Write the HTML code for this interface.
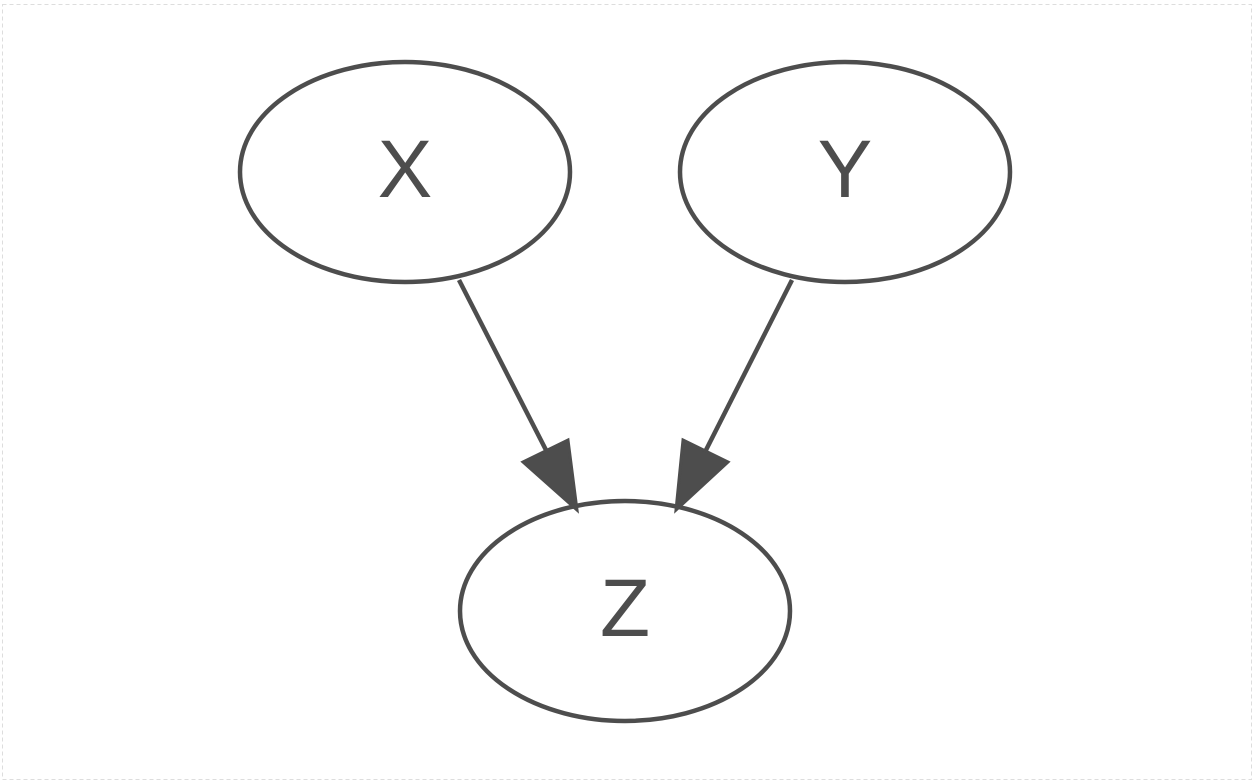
<!DOCTYPE html>
<html><head><meta charset="utf-8"><style>
html,body{margin:0;padding:0;background:#fff;width:1260px;height:784px;overflow:hidden}
</style></head><body>
<svg width="1260" height="784" viewBox="0 0 1260 784" xmlns="http://www.w3.org/2000/svg">
<rect x="2.5" y="4.5" width="1249" height="775" fill="#fff" stroke="#ddd" stroke-width="1" stroke-dasharray="4,3"/>
<g fill="none" stroke="#4d4d4d" stroke-width="4.5">
<ellipse cx="405" cy="172" rx="165" ry="110"/>
<ellipse cx="845" cy="172" rx="165" ry="110"/>
<ellipse cx="625" cy="611" rx="165" ry="110"/>
<line x1="459" y1="280" x2="547" y2="452"/>
<line x1="792" y1="280" x2="705" y2="452"/>
</g>
<polygon points="523,462 568,440 577,510" fill="#4d4d4d" stroke="#4d4d4d" stroke-width="3"/>
<polygon points="683,440 728,462 676,510" fill="#4d4d4d" stroke="#4d4d4d" stroke-width="3"/>
<g font-family="Liberation Sans, sans-serif" font-size="82" fill="#4d4d4d" text-anchor="middle">
<text x="405" y="197">X</text>
<text x="845" y="197">Y</text>
<text x="625" y="636">Z</text>
</g>
</svg>
</body></html>
